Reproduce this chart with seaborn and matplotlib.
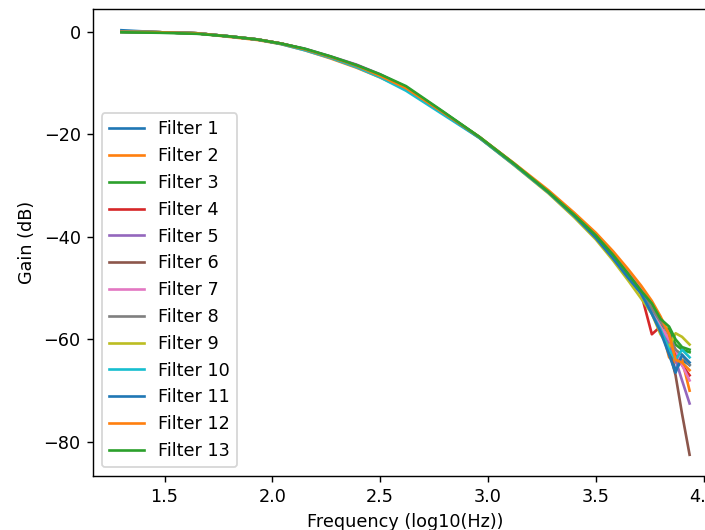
import pandas as pd
import matplotlib.pyplot as plt
import seaborn as sns

# -----------------------------
# DATA
# -----------------------------

freq_log = [1.30, 1.48, 1.65, 1.80, 1.93, 2.04, 2.15, 2.27, 2.39, 2.50, 2.62,
            2.79, 2.96, 3.12, 3.28, 3.40, 3.50, 3.58, 3.65, 3.71, 3.76, 3.80,
            3.84, 3.87, 3.90, 3.935]

filter_1 = [0.3, -0.1, -0.3, -0.9, -1.5, -2.3, -3.4, -4.9, -6.6, -8.5, -10.9,
            -15.7, -20.6, -25.8, -31.3, -35.8, -39.9, -43.8, -47.5, -50.5, -54.5, -58.0,
            -62.0, -66.0, -64.0, -65.0]
filter_2 = [0.0, -0.1, -0.3, -1.0, -1.6, -2.4, -3.6, -5.2, -7.0, -8.9, -11.2,
            -15.9, -20.6, -25.9, -31.2, -35.6, -39.5, -43.2, -47.0, -50.0, -53.5, -57.0,
            -63.5, -64.5, -64.0, -70.0]
filter_3 = [0.0, -0.1, -0.3, -0.9, -1.5, -2.3, -3.4, -4.9, -6.6, -8.4, -10.8,
            -15.6, -20.5, -25.7, -31.2, -35.9, -40.1, -44.0, -47.8, -51.0, -54.0, -57.5,
            -58.0, -61.0, -62.0, -62.5]
filter_4 = [0.0, -0.1, -0.3, -0.9, -1.5, -2.3, -3.4, -4.9, -6.6, -8.5, -10.9,
            -15.7, -20.6, -25.8, -31.3, -35.8, -40.0, -44.0, -47.8, -51.0, -59.0, -57.5,
            -60.0, -63.0, -65.0, -67.0]
filter_5 = [0.0, -0.1, -0.3, -0.9, -1.5, -2.3, -3.3, -4.8, -6.4, -8.3, -10.8,
            -15.7, -20.6, -25.8, -31.3, -35.8, -39.8, -43.7, -47.4, -50.5, -54.0, -58.0,
            -61.0, -64.0, -68.0, -72.5]
filter_6 = [0.0, -0.1, -0.3, -0.9, -1.5, -2.3, -3.4, -4.9, -6.5, -8.4, -10.9,
            -15.7, -20.6, -25.8, -31.3, -35.8, -39.9, -43.7, -47.4, -50.5, -54.5, -58.5,
            -62.0, -67.0, -74.5, -82.5]
filter_7 = [0.0, -0.1, -0.3, -0.9, -1.5, -2.3, -3.4, -4.9, -6.6, -8.5, -10.9,
            -15.7, -20.6, -25.8, -31.2, -35.7, -39.7, -43.5, -47.0, -50.0, -54.0, -57.5,
            -60.0, -62.0, -65.0, -68.0]
filter_8 = [0.0, -0.1, -0.3, -0.9, -1.5, -2.3, -3.4, -4.9, -6.6, -8.5, -10.9,
            -15.7, -20.6, -25.8, -31.3, -35.8, -39.9, -43.7, -47.3, -50.5, -54.0, -56.5,
            -59.0, -62.0, -63.0, -65.0]
filter_9 = [0.0, -0.1, -0.3, -0.9, -1.5, -2.3, -3.4, -4.9, -6.6, -8.5, -10.9,
            -15.8, -20.7, -26.0, -31.5, -36.2, -40.5, -44.6, -48.5, -52.0, -55.0, -59.0,
            -61.5, -58.8, -59.5, -61.0]
filter_10 = [0.0, -0.1, -0.3, -0.9, -1.5, -2.4, -3.6, -5.1, -6.9, -8.9, -11.5,
             -16.1, -20.7, -25.9, -31.3, -35.9, -40.1, -44.1, -47.9, -51.0, -55.0, -58.0,
             -62.0, -64.0, -62.0, -63.5]
filter_11 = [0.0, -0.1, -0.3, -0.9, -1.5, -2.3, -3.4, -4.9, -6.6, -8.5, -10.9,
             -15.7, -20.6, -25.8, -31.3, -35.9, -40.2, -44.2, -48.0, -51.0, -55.0, -58.5,
             -63.0, -66.5, -63.0, -64.5]
filter_12 = [0.0, -0.1, -0.3, -0.9, -1.5, -2.3, -3.4, -4.9, -6.6, -8.6, -11.0,
             -15.7, -20.5, -25.6, -30.9, -35.3, -39.2, -42.8, -46.3, -49.5, -52.5, -55.5,
             -59.0, -64.0, -64.5, -66.0]
filter_13 = [-0.1, -0.2, -0.4, -0.9, -1.5, -2.3, -3.3, -4.8, -6.5, -8.3, -10.6,
             -15.5, -20.5, -25.7, -31.2, -35.7, -39.7, -43.5, -47.2, -50.5, -53.0, -56.0,
             -57.5, -60.0, -61.5, -62.0]

filters = [filter_1, filter_2, filter_3, filter_4, filter_5, filter_6, filter_7,
           filter_8, filter_9, filter_10, filter_11, filter_12, filter_13]
filter_names = ["Filter %d" % (i + 1) for i in range(len(filters))]

# long format table for seaborn
rows = []
for name, gains in zip(filter_names, filters):
    for f, g in zip(freq_log, gains):
        rows.append({"freq": f, "gain": g, "filter": name})
df = pd.DataFrame(rows)

# -----------------------------
# PLOT
# -----------------------------

fig = plt.figure(figsize=(705 / 127, 530 / 127), dpi=127)
ax = fig.add_axes([93 / 705, 54 / 530, 625 / 705, 467 / 530])

sns.lineplot(data=df, x="freq", y="gain", hue="filter", hue_order=filter_names,
             palette=sns.color_palette("tab10", len(filters)), linewidth=1.5,
             sort=False, ax=ax)

ax.set_xlabel("Frequency (log10(Hz))")
ax.set_ylabel("Gain (dB)")
sns.move_legend(ax, "lower left", title=None)

fig.savefig("out.png", dpi=127)
